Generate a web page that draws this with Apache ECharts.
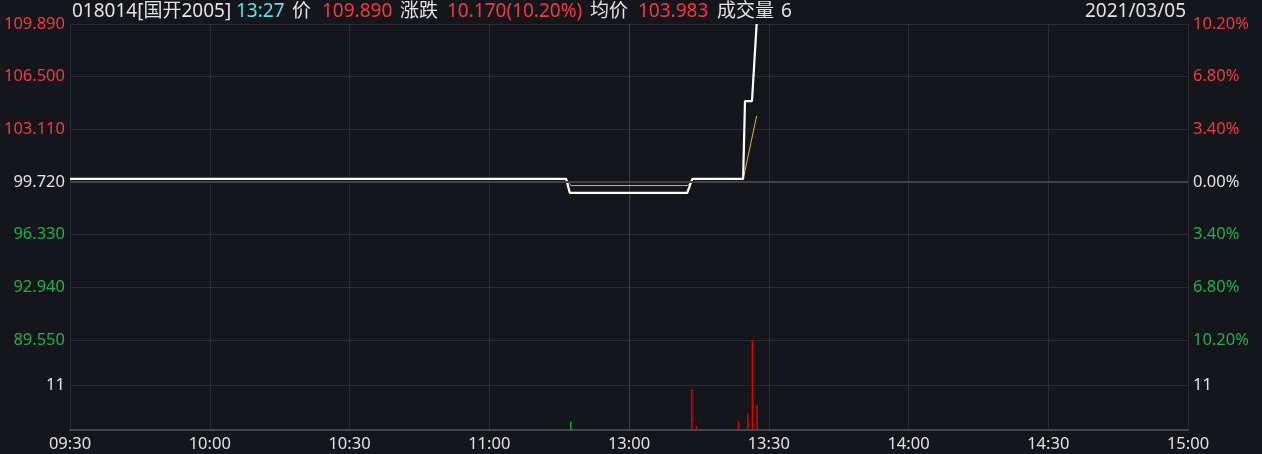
<!DOCTYPE html>
<html>
<head>
<meta charset="utf-8">
<script src="https://cdn.jsdelivr.net/npm/echarts@6/dist/echarts.min.js"></script>
<style>
html,body{margin:0;padding:0;background:#14161b;}
#c{width:1262px;height:454px;}
</style>
</head>
<body>
<div id="c"></div>
<script>
// ---- data ----
const timeLabels = ['09:30','10:00','10:30','11:00','13:00','13:30','14:00','14:30','15:00'];
const priceTickLabels = ['89.550','92.940','96.330','99.720','103.110','106.500','109.890'];
const pctTickLabels = ['10.20%','6.80%','3.40%','0.00%','3.40%','6.80%','10.20%'];
const preClose = 99.72;
const priceStep = 3.39;
const volTickLabel = '11';

const priceTimes = ['09:30:00','11:16:30','11:17:18','13:12:30','13:13:36','13:24:30','13:24:54','13:26:24','13:27:24'];
const priceValues = [99.92, 99.92, 99.02, 99.02, 99.92, 99.92, 104.92, 104.92, 109.89];

const avgTimes = ['09:30:00','11:16:30','11:17:30','13:12:36','13:13:48','13:24:30','13:27:24'];
const avgValues = [99.92, 99.92, 99.49, 99.49, 99.88, 99.88, 103.983];

const volTimes = ['11:17','13:13','13:14','13:23','13:25','13:26','13:27'];
const volValues = [2, 10, 1, 2, 4, 22, 6];
const volDir = ['down','up','up','up','up','up','up'];

const header = {
  code: '018014[国开2005]', time: '13:27', price: '109.890',
  change: '10.170(10.20%)', avg: '103.983', volume: '6', date: '2021/03/05'
};

// ---- helpers ----
function tradeMinute(t) {
  const p = t.split(':').map(Number);
  const m = p[0] * 60 + p[1] + (p[2] || 0) / 60;
  return p[0] < 12 ? m - 570 : m - 780 + 120;
}
const toStep = v => (v - preClose) / priceStep;

const priceData = priceTimes.map((t, i) => [tradeMinute(t), toStep(priceValues[i])]);
const avgData = avgTimes.map((t, i) => [tradeMinute(t), toStep(avgValues[i])]);
const volData = volTimes.map((t, i) => ({
  value: [tradeMinute(t) + 0.5, volValues[i]],
  itemStyle: { color: volDir[i] === 'up' ? '#e60000' : '#13a538' }
}));

const RED = '#f23a3f', GREEN = '#1fb14a', WHITE = '#e2e2e2', CYAN = '#5ee3e8';
const GRID = '#2a2c31', GRID2 = '#3c3e43';
const FONT = '"Noto Sans","Noto Sans CJK SC",sans-serif';
const AX_FS = 16.5;

const chart = echarts.init(document.getElementById('c'), null, { renderer: 'canvas' });

const xCommon = {
  type: 'value', min: 0, max: 240, interval: 30,
  axisTick: { show: false },
  splitLine: { show: true, lineStyle: { color: [GRID, GRID, GRID, GRID, GRID2, GRID, GRID, GRID, GRID], width: 1 } }
};

function hText(text, x, color) {
  return { type: 'text', left: x, top: 2, style: { text, fill: color, font: '19px ' + FONT } };
}

chart.setOption({
  backgroundColor: '#14161b',
  animation: false,
  grid: [
    { left: 70, top: 24, width: 1118, height: 316, outerBoundsMode: 'none', containLabel: false },
    { left: 70, top: 340, width: 1118, height: 90, outerBoundsMode: 'none', containLabel: false }
  ],
  xAxis: [
    Object.assign({}, xCommon, { gridIndex: 0, axisLine: { show: false }, axisLabel: { show: false } }),
    Object.assign({}, xCommon, {
      gridIndex: 1,
      axisLine: { show: true, onZero: false, lineStyle: { color: '#44464b', width: 2 } },
      axisLabel: {
        color: WHITE, fontSize: AX_FS, fontFamily: FONT, margin: 6,
        formatter: v => timeLabels[Math.round(v / 30)]
      }
    })
  ],
  yAxis: [
    {
      type: 'value', gridIndex: 0, min: -3, max: 3, interval: 1, position: 'left',
      axisLine: { show: false }, axisTick: { show: false },
      splitLine: { show: true, lineStyle: { color: GRID } },
      axisLabel: {
        fontSize: AX_FS, fontFamily: FONT, margin: 5,
        formatter: v => priceTickLabels[Math.round(v) + 3],
        color: v => (v > 0.01 ? RED : v < -0.01 ? GREEN : WHITE)
      }
    },
    {
      type: 'value', gridIndex: 0, min: -3, max: 3, interval: 1, position: 'right',
      axisLine: { show: false }, axisTick: { show: false }, splitLine: { show: false },
      axisLabel: {
        fontSize: AX_FS, fontFamily: FONT, margin: 5,
        formatter: v => pctTickLabels[Math.round(v) + 3],
        color: v => (v > 0.01 ? RED : v < -0.01 ? GREEN : WHITE)
      }
    },
    {
      type: 'value', gridIndex: 1, min: 0, max: 22, interval: 11, position: 'left',
      axisLine: { show: false }, axisTick: { show: false },
      splitLine: { show: true, lineStyle: { color: GRID } },
      axisLabel: {
        fontSize: AX_FS, fontFamily: FONT, color: WHITE, margin: 5,
        showMinLabel: false, showMaxLabel: false,
        formatter: v => (v === 11 ? volTickLabel : '')
      }
    },
    {
      type: 'value', gridIndex: 1, min: 0, max: 22, interval: 11, position: 'right',
      axisLine: { show: false }, axisTick: { show: false }, splitLine: { show: false },
      axisLabel: {
        fontSize: AX_FS, fontFamily: FONT, color: WHITE, margin: 5,
        showMinLabel: false, showMaxLabel: false,
        formatter: v => (v === 11 ? volTickLabel : '')
      }
    }
  ],
  series: [
    {
      type: 'line', xAxisIndex: 0, yAxisIndex: 0, data: [], z: 1, silent: true,
      markLine: {
        silent: true, symbol: 'none', label: { show: false }, animation: false,
        lineStyle: { color: '#404247', width: 2, type: 'solid' },
        data: [{ yAxis: 0 }]
      }
    },
    {
      name: 'avg', type: 'line', xAxisIndex: 0, yAxisIndex: 0, data: avgData,
      showSymbol: false, symbol: 'none', z: 3,
      lineStyle: { color: '#f2b01e', width: 1 }
    },
    {
      name: 'price', type: 'line', xAxisIndex: 0, yAxisIndex: 0, data: priceData,
      showSymbol: false, symbol: 'none', z: 4,
      lineStyle: { color: '#ffffff', width: 2.2 }
    },
    {
      name: 'vol', type: 'bar', xAxisIndex: 1, yAxisIndex: 2, data: volData,
      barWidth: 1.5
    }
  ],
  graphic: [
    hText(header.code, 72, WHITE),
    hText(header.time, 236, CYAN),
    hText('价', 292, WHITE),
    hText(header.price, 322, RED),
    hText('涨跌', 400, WHITE),
    hText(header.change, 447, RED),
    hText('均价', 590, WHITE),
    hText(header.avg, 638, RED),
    hText('成交量', 717, WHITE),
    hText(header.volume, 781, WHITE),
    { type: 'text', right: 76, top: 2, style: { text: header.date, fill: WHITE, font: '19px ' + FONT } }
  ]
});
</script>
</body>
</html>
